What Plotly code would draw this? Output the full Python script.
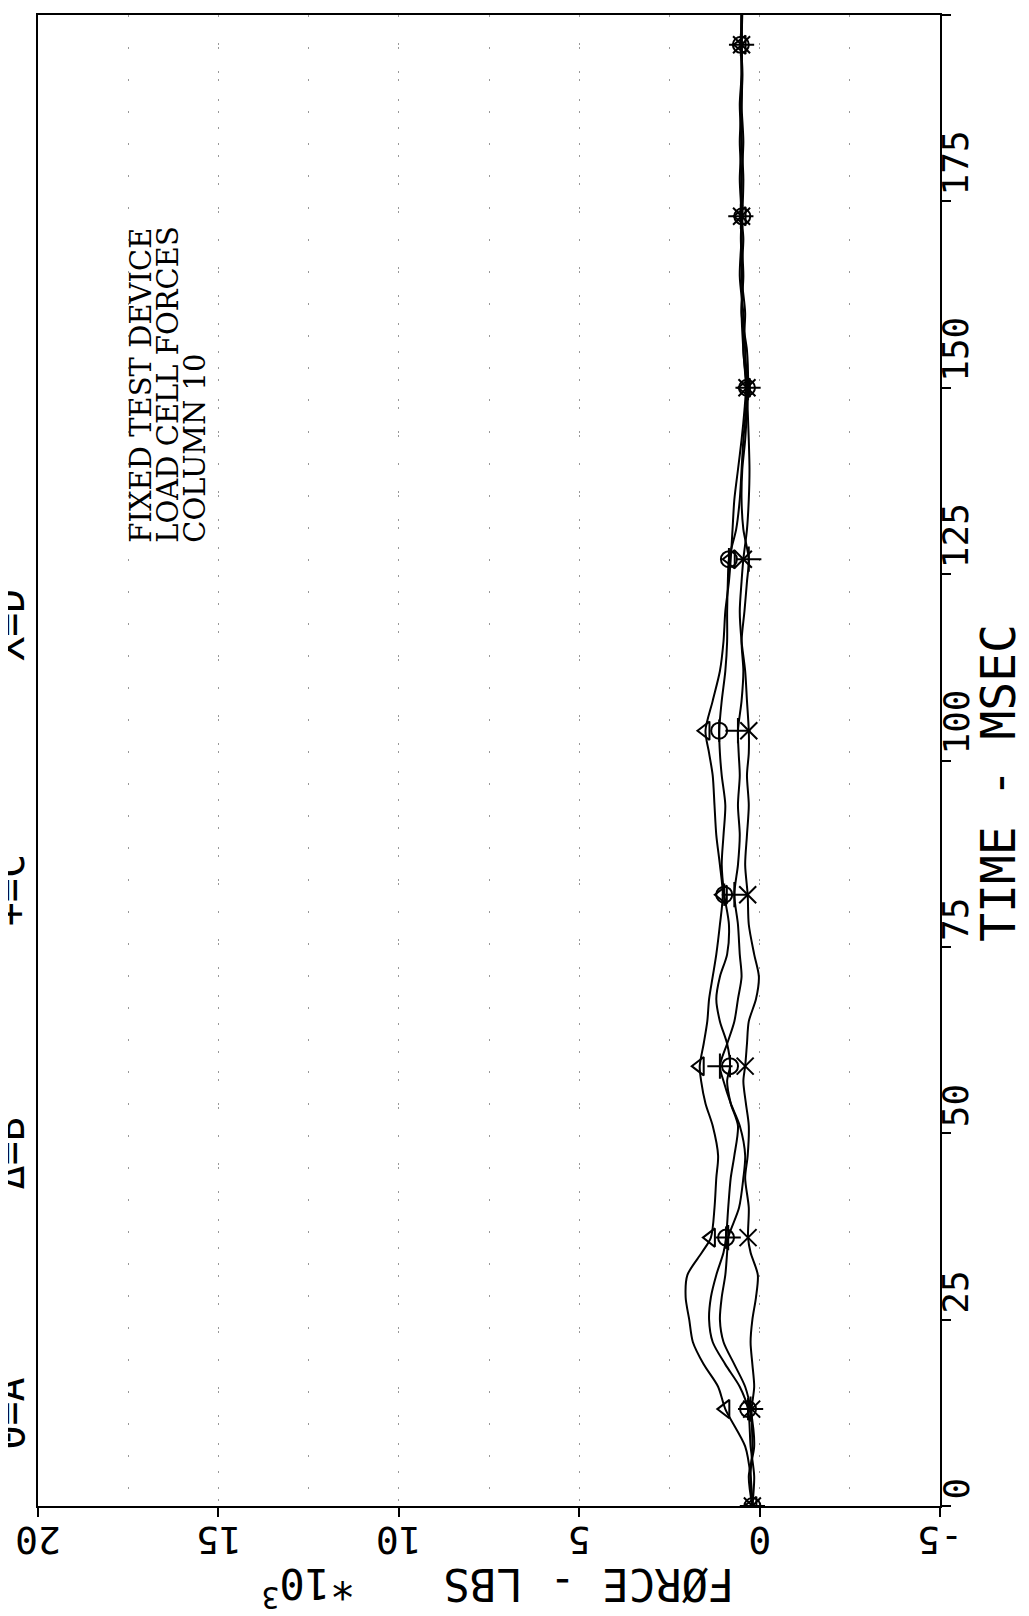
import plotly.graph_objects as go

# time base shared by the four load cell traces (msec)
time_ms = [0, 4, 8, 13, 16, 19, 22, 25, 28, 31, 34, 36, 40, 44, 47, 51, 54, 57, 59,
           62, 65, 68, 71, 74, 78, 82, 86, 90, 94, 98, 101, 104, 108, 112, 116, 120,
           124, 127, 131, 135, 139, 143, 147, 150, 155, 160, 165, 170, 173, 178, 183,
           188, 192, 196, 200]

# force, lbs * 10^3
force_a = [0.2, 0.15, 0.25, 0.32, 0.55, 0.95, 1.3, 1.4, 1.35, 1.2, 1.0, 0.93, 0.87, 0.8,
           0.7, 0.6, 0.8, 0.9, 0.82, 0.9, 1.1, 1.2, 1.1, 0.9, 0.85, 0.98, 1.05, 1.0, 0.95,
           1.05, 1.1, 1.12, 1.05, 0.95, 0.9, 0.9, 0.88, 0.85, 0.65, 0.55, 0.5, 0.45, 0.38,
           0.35, 0.4, 0.45, 0.55, 0.5, 0.48, 0.45, 0.5, 0.55, 0.5, 0.52, 0.5]
force_b = [0.2, 0.25, 0.4, 0.95, 1.15, 1.55, 1.85, 1.95, 2.05, 2.0, 1.6, 1.35, 1.25, 1.2,
           1.15, 1.3, 1.5, 1.62, 1.66, 1.55, 1.45, 1.4, 1.3, 1.2, 1.1, 1.02, 1.1, 1.2, 1.25,
           1.3, 1.4, 1.5, 1.3, 1.1, 1.0, 0.95, 0.85, 0.8, 0.75, 0.7, 0.6, 0.5, 0.42, 0.38,
           0.45, 0.5, 0.48, 0.52, 0.5, 0.55, 0.5, 0.52, 0.5, 0.5, 0.48]
force_c = [0.2, 0.3, 0.15, 0.25, 0.4, 0.7, 1.0, 1.1, 1.05, 0.95, 0.9, 0.87, 0.57, 0.45,
           0.4, 0.55, 0.8, 1.0, 1.1, 0.9, 0.7, 0.6, 0.5, 0.55, 0.6, 0.7, 0.6, 0.55, 0.6,
           0.55, 0.58, 0.6, 0.5, 0.45, 0.5, 0.42, 0.35, 0.3, 0.45, 0.5, 0.48, 0.4, 0.35,
           0.32, 0.35, 0.5, 0.45, 0.5, 0.52, 0.5, 0.45, 0.5, 0.48, 0.5, 0.5]
force_d = [0.2, 0.25, 0.2, 0.22, 0.15, 0.2, 0.25, 0.2, 0.1, 0.05, 0.25, 0.32, 0.3, 0.4,
           0.33, 0.3, 0.38, 0.45, 0.4, 0.35, 0.3, 0.1, 0.02, 0.15, 0.3, 0.33, 0.4, 0.35,
           0.3, 0.35, 0.3, 0.3, 0.35, 0.4, 0.5, 0.55, 0.5, 0.45, 0.35, 0.3, 0.28, 0.3,
           0.33, 0.35, 0.45, 0.4, 0.5, 0.45, 0.5, 0.5, 0.55, 0.5, 0.48, 0.5, 0.5]

# times where the plotter put a symbol on each curve
marker_ms = [0, 13, 36, 59, 82, 104, 127, 150, 173, 196]

force_ticks = [20, 15, 10, 5, 0, -5]
force_labels = ['20', '15', '10', '5', '0', '-5']
time_ticks = [0, 25, 50, 75, 100, 125, 150, 175, 200]
time_labels = ['0', '25', '50', '75', '100', '125', '150', '175', '200']

note_lines = ['FIXED TEST DEVICE', 'LOAD CELL FORCES', 'COLUMN 10']
legend_text = ['Θ=A', 'Δ=B', '+=C', 'X=D']

series = [
    ('A', force_a, ['circle-open', 'line-ns-open'], 16),
    ('B', force_b, ['triangle-left-open'], 16),
    ('C', force_c, ['cross-thin-open'], 18),
    ('D', force_d, ['x-thin-open'], 17),
]

PLOTTER = 'DejaVu Sans Mono'
INK = 'black'

fig = go.Figure()
for name, vals, symbols, size in series:
    fig.add_trace(go.Scatter(x=vals, y=time_ms, mode='lines', name=name,
                             line=dict(color=INK, width=2, shape='spline', smoothing=0.8),
                             showlegend=False, hoverinfo='skip'))
    mx = [vals[time_ms.index(t)] for t in marker_ms]
    for sym in symbols:
        fig.add_trace(go.Scatter(x=mx, y=marker_ms, mode='markers', showlegend=False,
                                 marker=dict(symbol=sym, size=size, color=INK,
                                             line=dict(color=INK, width=2)),
                                 hoverinfo='skip'))

annotations = []
# time tick labels, rotated, starting at the tick
for v, txt in zip(time_ticks, time_labels):
    annotations.append(dict(x=1, xref='paper', y=v, yref='y', text=txt, showarrow=False,
                            textangle=-90, xanchor='left', yanchor='bottom', xshift=-7, yshift=4,
                            font=dict(family=PLOTTER, size=36, color=INK)))
# force tick labels, upside down
for v, txt in zip(force_ticks, force_labels):
    annotations.append(dict(x=v, xref='x', y=0, yref='paper', text=txt, showarrow=False,
                            textangle=180, xanchor='center', yanchor='top', yshift=-10,
                            font=dict(family=PLOTTER, size=38, color=INK)))

annotations.append(dict(x=1, xref='paper', y=97, yref='y', text='TIME - MSEC', showarrow=False,
                        textangle=-90, xanchor='center', yanchor='middle', xshift=58,
                        font=dict(family=PLOTTER, size=48, color=INK)))
annotations.append(dict(x=4.72, xref='x', y=0, yref='paper', text='FØRCE - LBS', showarrow=False,
                        textangle=180, xanchor='center', yanchor='middle', yshift=-79,
                        font=dict(family=PLOTTER, size=44, color=INK)))
annotations.append(dict(x=12.5, xref='x', y=0, yref='paper', text='*10<sup>3</sup>',
                        showarrow=False, textangle=180, xanchor='center', yanchor='middle',
                        yshift=-81, font=dict(family=PLOTTER, size=42, color=INK)))

# note block, three rotated lines, left aligned (bottom in this orientation)
for fx, txt in zip([17.15, 16.4, 15.65], note_lines):
    annotations.append(dict(x=fx, xref='x', y=129, yref='y', text=txt, showarrow=False,
                            textangle=-90, xanchor='center', yanchor='bottom',
                            font=dict(family='DejaVu Serif', size=29, color=INK)))

# symbol key along the clipped left edge
for ty, txt in zip([12.4, 47.3, 82.6, 118.2], legend_text):
    annotations.append(dict(x=0, xref='paper', y=ty, yref='y', text=txt, showarrow=False,
                            textangle=-90, xanchor='center', yanchor='middle', xshift=-28,
                            font=dict(family=PLOTTER, size=40, color=INK)))

axis_common = dict(zeroline=False, showline=True, linecolor=INK, linewidth=2,
                   mirror=True, ticks='outside', ticklen=9, tickwidth=2, tickcolor=INK,
                   showticklabels=False)

fig.update_layout(
    width=1029, height=1616,
    margin=dict(l=30, r=97, t=5, b=118),
    paper_bgcolor='white', plot_bgcolor='white',
    xaxis=dict(range=[20, -5], tickvals=force_ticks, showgrid=True,
               gridcolor='#999', gridwidth=1, griddash='2px,26px',
               minor=dict(dtick=2.5, tick0=0, showgrid=True, gridcolor='#999',
                          gridwidth=1, griddash='2px,30px'),
               **axis_common),
    yaxis=dict(range=[0, 200], side='right', tickvals=time_ticks, showgrid=False,
               **axis_common),
    annotations=annotations,
)

fig.write_html("out.html")
